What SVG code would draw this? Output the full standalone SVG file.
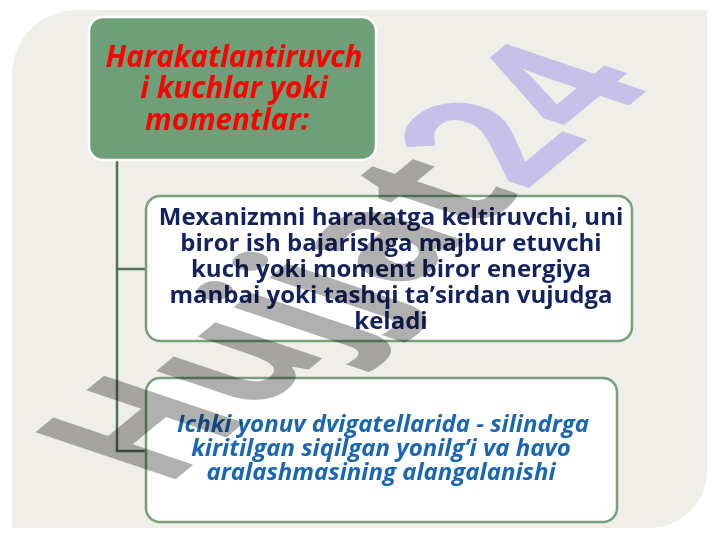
<svg xmlns="http://www.w3.org/2000/svg" width="720" height="540" viewBox="0 0 720 540">
<style>
.box{fill:#ffffff;stroke:#789f78;stroke-width:2.5}
.root{fill:#6f9f78;stroke:#ffffff;stroke-width:2.5}
.conn{fill:none;stroke:#55715a;stroke-width:2.5}
.t-root{font-family:"Open Sans","Noto Sans",sans-serif;font-weight:bold;font-style:italic;font-size:29.5px;fill:#ff0000;text-anchor:middle}
.t1{font-family:"Open Sans","Noto Sans",sans-serif;font-weight:bold;font-size:24px;fill:#13235f;text-anchor:middle}
.t2{font-family:"Open Sans","Noto Sans",sans-serif;font-weight:bold;font-style:italic;font-size:24px;fill:#1a66b3;text-anchor:middle}
.wm{font-family:"Open Sans","Noto Sans",sans-serif;font-weight:bold;font-size:100px}
</style>
<rect x="0" y="0" width="720" height="540" fill="#ffffff"/>
<path d="M12,75 A65,65 0 0 1 77,10 L707,10 L707,470 A58,58 0 0 1 649,528 L12,528 Z" fill="#efeee8"/>
<g id="connectors">
<path class="conn" d="M117,160 L117,451 L146,451 M117,269 L146,269"/>
</g>
<g id="node-root">
<rect class="root" x="89" y="17" width="287" height="143" rx="14"/>
<text class="t-root"><tspan x="234" y="67">Harakatlantiruvch</tspan><tspan x="234" y="98">i kuchlar yoki</tspan><tspan x="227" y="130">momentlar: </tspan></text>
</g>
<g id="node-1">
<rect class="box" x="146" y="196" width="486" height="145" rx="14"/>
<text class="t1"><tspan x="391" y="225">Mexanizmni harakatga keltiruvchi, uni</tspan><tspan x="391" y="251">biror ish bajarishga majbur etuvchi</tspan><tspan x="391" y="277">kuch yoki moment biror energiya</tspan><tspan x="391" y="303">manbai yoki tashqi ta’sirdan vujudga</tspan><tspan x="391" y="329">keladi</tspan></text>
</g>
<g id="node-2">
<rect class="box" x="146" y="378" width="471" height="144" rx="14"/>
<text class="t2"><tspan x="383" y="432">Ichki yonuv dvigatellarida - silindrga</tspan><tspan x="381" y="456">kiritilgan siqilgan yonilg’i va havo</tspan><tspan x="381" y="480">aralashmasining alangalanishi </tspan></text>
</g>
<g id="watermark" style="mix-blend-mode:multiply">
<text class="wm" transform="matrix(1.17,-0.965,1.96,0.66,165,488)"><tspan fill="#b0b0b0">Hujjat</tspan><tspan fill="#d5ceff">24</tspan></text>
</g>
</svg>
